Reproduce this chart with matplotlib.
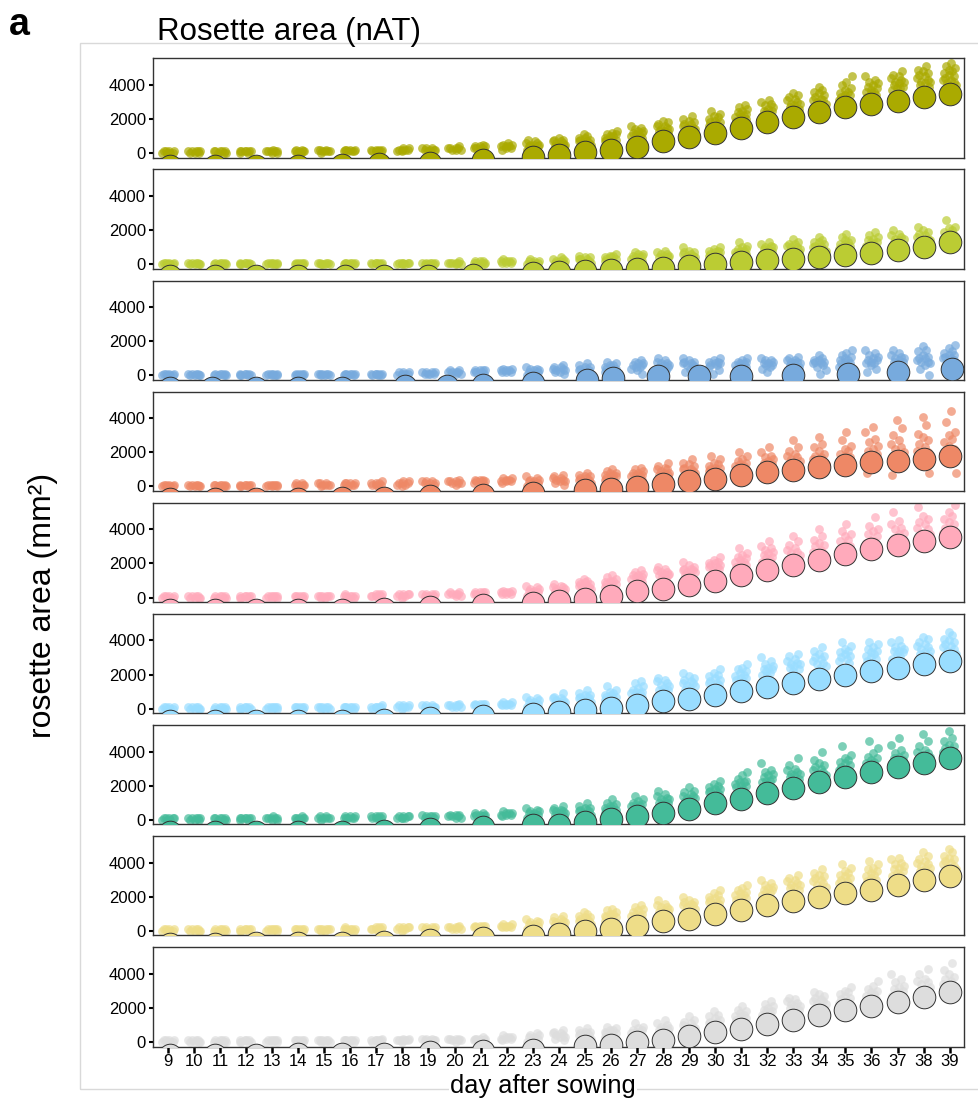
import matplotlib
matplotlib.use("Agg")
import matplotlib.pyplot as plt
from matplotlib.patches import Rectangle

plt.rcParams["font.family"] = ["Liberation Sans", "DejaVu Sans"]

DAYS = list(range(9, 40))
EARLY_X = [9.1, 10.8, 12.4, 14.0, 15.7, 17.3, 19.05, 21.1]
LATE_X = list(range(23, 40))

COLORS = ["#AAAA00", "#BBCC33", "#77AADD", "#EE8866", "#FFAABB",
          "#99DDFF", "#44BB99", "#EEDD88", "#DDDDDD"]

# plant values per day (hundreds of mm2), days 9..39
P1_PTS = [
    [0, 0, 0, 0, 1, 1, 1, 1], [0, 0, 0, 1, 1, 1, 1, 1], [0, 0, 0, 1, 1, 1, 1, 1],
    [0, 0, 1, 1, 1, 1, 1, 1], [0, 0, 1, 1, 1, 1, 1, 2], [0, 0, 1, 1, 1, 1, 2, 2],
    [0, 1, 1, 1, 1, 2, 2, 2], [1, 1, 1, 1, 2, 2, 2, 2], [1, 1, 1, 1, 2, 2, 2, 2],
    [1, 1, 2, 2, 2, 2, 3, 3], [1, 2, 2, 2, 2, 3, 3, 3], [2, 2, 2, 3, 3, 3, 3, 4],
    [2, 3, 3, 3, 4, 4, 4, 5], [2, 3, 3, 4, 4, 4, 5, 5, 6],
    [2, 3, 3, 4, 4, 5, 5, 5, 6, 6, 7, 8], [4, 4, 5, 5, 6, 6, 7, 7, 8, 8, 9],
    [5, 6, 6, 7, 7, 8, 8, 9, 9, 10, 11], [7, 7, 8, 8, 9, 9, 10, 10, 11, 11, 12, 13],
    [9, 9, 10, 10, 11, 12, 12, 13, 13, 14, 15, 16],
    [11, 11, 12, 13, 13, 14, 14, 15, 16, 16, 17, 18, 19],
    [13, 13, 14, 15, 15, 16, 17, 17, 18, 19, 20, 22],
    [15, 15, 16, 17, 18, 18, 19, 20, 21, 22, 23, 25],
    [18, 19, 20, 21, 21, 22, 23, 23, 24, 25, 26, 27, 28],
    [22, 22, 23, 24, 25, 25, 26, 27, 28, 29, 30, 31],
    [26, 26, 27, 28, 29, 29, 30, 31, 32, 33, 34, 35],
    [28, 29, 30, 31, 31, 32, 33, 34, 35, 36, 37, 39],
    [30, 31, 32, 33, 34, 34, 35, 36, 37, 38, 40, 42, 45],
    [33, 34, 35, 36, 36, 37, 38, 39, 40, 41, 42, 43, 45],
    [37, 38, 38, 39, 40, 41, 42, 42, 43, 44, 45, 46, 48],
    [39, 40, 41, 42, 42, 43, 44, 45, 46, 47, 48, 49, 51],
    [40, 41, 42, 43, 43, 44, 45, 46, 47, 48, 49, 50, 51, 53],
]
P2_PTS = [
    [0, 0, 0, 0, 1, 1, 1, 1], [0, 0, 0, 0, 1, 1, 1, 1], [0, 0, 0, 0, 1, 1, 1, 1],
    [0, 0, 0, 0, 1, 1, 1, 1], [0, 0, 0, 0, 1, 1, 1, 1], [0, 0, 0, 0, 1, 1, 1, 1],
    [0, 0, 0, 0, 1, 1, 1, 1], [0, 0, 0, 1, 1, 1, 1, 1], [0, 0, 0, 1, 1, 1, 1, 1],
    [0, 0, 0, 1, 1, 1, 1, 1], [0, 0, 0, 1, 1, 1, 1, 1], [0, 0, 1, 1, 1, 1, 1, 2],
    [0, 1, 1, 1, 1, 2, 2, 2], [1, 1, 1, 2, 2, 2, 2, 3],
    [0, 1, 1, 1, 2, 2, 2, 3], [1, 1, 2, 2, 2, 3, 3, 4], [1, 2, 2, 3, 3, 3, 4, 4, 5],
    [2, 2, 3, 3, 4, 4, 5, 5, 6], [2, 3, 3, 4, 4, 5, 5, 6, 6, 7],
    [3, 3, 4, 4, 5, 5, 6, 6, 7, 8], [3, 4, 4, 5, 5, 6, 6, 7, 7, 8, 10],
    [4, 5, 5, 6, 6, 7, 7, 8, 8, 9, 10], [5, 6, 6, 7, 7, 8, 8, 9, 9, 10, 11, 13],
    [5, 6, 7, 7, 8, 9, 9, 10, 10, 11, 12, 13],
    [6, 7, 8, 8, 9, 10, 10, 11, 12, 12, 13, 15],
    [7, 8, 9, 9, 10, 11, 11, 12, 13, 13, 14, 16],
    [8, 9, 10, 10, 11, 12, 12, 13, 14, 14, 16, 18],
    [9, 10, 11, 11, 12, 13, 13, 14, 15, 16, 17, 19],
    [10, 11, 12, 12, 13, 14, 15, 15, 16, 17, 18, 20],
    [11, 12, 13, 14, 14, 15, 16, 17, 18, 19, 20, 22],
    [12, 13, 14, 15, 16, 16, 17, 18, 19, 20, 21, 22, 26],
]
P3_PTS = [
    [0, 0, 0, 0, 1, 1, 1, 1], [0, 0, 0, 0, 1, 1, 1, 1], [0, 0, 0, 0, 1, 1, 1, 1],
    [0, 0, 0, 0, 1, 1, 1, 1], [0, 0, 0, 0, 1, 1, 1, 1], [0, 0, 0, 0, 1, 1, 1, 1],
    [0, 0, 0, 1, 1, 1, 1, 1], [0, 0, 0, 1, 1, 1, 1, 1], [0, 0, 0, 1, 1, 1, 1, 1],
    [0, 0, 1, 1, 1, 2, 2, 2], [1, 1, 1, 1, 2, 2, 2, 2], [1, 1, 2, 2, 2, 2, 3, 3],
    [1, 2, 2, 2, 3, 3, 3, 3], [2, 2, 2, 3, 3, 3, 4, 4],
    [0, 1, 1, 2, 2, 3, 3, 4, 4, 5], [1, 2, 2, 3, 3, 4, 4, 5, 5, 6],
    [1, 2, 3, 3, 4, 4, 5, 5, 6, 7], [2, 3, 4, 4, 5, 5, 6, 6, 7, 8],
    [1, 3, 4, 5, 5, 6, 6, 7, 7, 8, 9], [3, 4, 5, 5, 6, 6, 7, 7, 8, 9, 10],
    [2, 4, 5, 6, 6, 7, 7, 8, 8, 9, 10], [1, 3, 5, 6, 6, 7, 7, 8, 8, 9, 10],
    [3, 4, 5, 6, 6, 7, 7, 8, 8, 9, 10], [2, 4, 5, 6, 6, 7, 7, 8, 9, 9, 10],
    [3, 5, 6, 7, 7, 8, 8, 9, 9, 10, 11], [1, 3, 5, 6, 7, 7, 8, 8, 9, 9, 10, 12],
    [3, 5, 6, 7, 7, 8, 9, 9, 10, 11, 12, 13, 15],
    [2, 4, 6, 7, 7, 8, 9, 9, 10, 11, 12, 13, 15],
    [4, 5, 7, 8, 8, 9, 10, 10, 11, 12, 13, 15],
    [0, 4, 6, 7, 8, 8, 9, 10, 10, 11, 12, 14, 15, 17],
    [7, 8, 9, 10, 10, 11, 12, 12, 13, 14, 16, 18],
]
P4_PTS = [
    [0, 0, 0, 0, 1, 1, 1, 1], [0, 0, 0, 0, 1, 1, 1, 1], [0, 0, 0, 1, 1, 1, 1, 1],
    [0, 0, 0, 1, 1, 1, 1, 1], [0, 0, 0, 1, 1, 1, 1, 1], [0, 0, 1, 1, 1, 1, 2, 2],
    [0, 1, 1, 1, 1, 2, 2, 2], [0, 1, 1, 1, 2, 2, 2, 2], [0, 1, 1, 1, 2, 2, 2, 3],
    [0, 1, 1, 2, 2, 2, 3, 3], [1, 1, 2, 2, 2, 3, 3, 3], [1, 2, 2, 2, 3, 3, 3, 4],
    [1, 2, 3, 3, 3, 4, 4, 4], [2, 3, 3, 3, 4, 4, 5, 5],
    [0, 1, 2, 2, 3, 3, 4, 4, 5, 6], [1, 2, 3, 3, 4, 4, 5, 5, 6, 7],
    [2, 3, 4, 4, 5, 5, 6, 6, 7, 8], [4, 5, 5, 6, 6, 7, 7, 8, 8, 9, 10],
    [4, 5, 6, 6, 7, 7, 8, 8, 9, 10, 11], [4, 6, 7, 7, 8, 8, 9, 10, 10, 11, 12, 14],
    [5, 7, 8, 8, 9, 10, 10, 11, 12, 13, 14, 16],
    [6, 8, 9, 9, 10, 11, 11, 12, 13, 14, 16, 18],
    [8, 9, 10, 11, 12, 12, 13, 14, 15, 16, 18, 20],
    [9, 10, 12, 12, 13, 14, 15, 16, 17, 18, 20, 23],
    [10, 12, 13, 14, 15, 16, 17, 18, 19, 21, 23, 27],
    [11, 13, 14, 15, 16, 17, 18, 19, 21, 23, 25, 29],
    [12, 14, 15, 16, 17, 18, 19, 21, 22, 24, 27, 32],
    [8, 13, 15, 16, 17, 18, 19, 21, 22, 24, 26, 28, 32, 35],
    [7, 14, 16, 17, 18, 19, 20, 22, 23, 25, 27, 30, 34, 39],
    [8, 15, 17, 18, 19, 20, 21, 23, 25, 27, 29, 31, 36, 41],
    [8, 16, 18, 19, 20, 21, 22, 24, 26, 28, 30, 32, 38, 44],
]
P5_PTS = [
    [0, 0, 0, 0, 1, 1, 1, 1], [0, 0, 0, 0, 1, 1, 1, 1], [0, 0, 0, 0, 1, 1, 1, 1],
    [0, 0, 0, 1, 1, 1, 1, 1], [0, 0, 0, 1, 1, 1, 1, 1], [0, 0, 0, 1, 1, 1, 1, 1],
    [0, 0, 1, 1, 1, 1, 1, 1], [0, 0, 1, 1, 1, 1, 1, 2], [0, 1, 1, 1, 1, 2, 2, 2],
    [0, 1, 1, 1, 2, 2, 2, 2], [1, 1, 1, 1, 2, 2, 2, 2], [1, 1, 2, 2, 2, 2, 3, 3],
    [1, 2, 2, 2, 3, 3, 3, 3], [2, 2, 2, 3, 3, 3, 4, 4],
    [1, 2, 3, 3, 4, 4, 5, 5, 6, 7], [3, 4, 4, 5, 5, 6, 6, 7, 8],
    [5, 6, 6, 7, 7, 8, 8, 9, 9, 10, 11], [6, 7, 8, 8, 9, 9, 10, 10, 11, 12, 13],
    [9, 10, 11, 11, 12, 12, 13, 13, 14, 15, 16],
    [11, 12, 13, 13, 14, 14, 15, 15, 16, 17, 18],
    [13, 14, 15, 15, 16, 16, 17, 17, 18, 19, 21],
    [16, 17, 18, 18, 19, 19, 20, 20, 21, 22, 24],
    [17, 18, 19, 20, 21, 21, 22, 23, 24, 25, 26, 29],
    [20, 21, 22, 23, 24, 25, 26, 27, 28, 29, 30, 33],
    [20, 22, 23, 24, 25, 26, 27, 28, 29, 31, 33, 36],
    [22, 24, 25, 26, 27, 28, 30, 31, 32, 34, 36, 40],
    [25, 27, 28, 29, 30, 31, 33, 34, 36, 37, 39, 43],
    [28, 30, 31, 32, 33, 34, 36, 37, 39, 40, 42, 47],
    [30, 32, 33, 34, 35, 37, 38, 40, 41, 43, 45, 50],
    [33, 35, 36, 37, 38, 40, 41, 43, 44, 46, 48, 53],
    [34, 36, 37, 38, 40, 41, 43, 44, 46, 48, 50, 54],
]
P6_PTS = [
    [0, 0, 0, 0, 1, 1, 1, 1], [0, 0, 0, 0, 1, 1, 1, 1], [0, 0, 0, 0, 1, 1, 1, 1],
    [0, 0, 0, 0, 1, 1, 1, 1], [0, 0, 0, 1, 1, 1, 1, 1], [0, 0, 0, 1, 1, 1, 1, 1],
    [0, 0, 0, 1, 1, 1, 1, 1], [0, 0, 1, 1, 1, 1, 1, 1], [0, 0, 1, 1, 1, 1, 1, 2],
    [0, 1, 1, 1, 1, 2, 2, 2], [0, 1, 1, 1, 1, 2, 2, 2], [1, 1, 1, 2, 2, 2, 2, 3],
    [1, 2, 2, 2, 3, 3, 3, 3], [2, 2, 2, 3, 3, 3, 4, 4],
    [1, 2, 3, 3, 4, 4, 5, 5, 6, 7], [2, 3, 4, 4, 5, 5, 6, 6, 7, 9],
    [4, 5, 6, 6, 7, 7, 8, 8, 9, 11], [5, 6, 7, 7, 8, 8, 9, 10, 11, 13],
    [7, 8, 9, 9, 10, 10, 11, 12, 13, 15, 16],
    [9, 10, 11, 11, 12, 13, 14, 15, 16, 17, 18],
    [11, 12, 13, 14, 15, 15, 16, 17, 18, 19, 21],
    [12, 14, 15, 15, 16, 17, 18, 19, 20, 21, 23],
    [16, 17, 18, 18, 19, 20, 21, 22, 23, 24, 26],
    [19, 20, 21, 22, 23, 23, 24, 25, 26, 28, 30],
    [22, 23, 24, 25, 26, 26, 27, 28, 29, 31, 32],
    [24, 25, 26, 27, 28, 29, 30, 31, 32, 34, 36],
    [27, 28, 29, 30, 31, 32, 33, 34, 35, 37, 39],
    [28, 29, 30, 31, 32, 33, 34, 35, 36, 38, 39],
    [29, 31, 32, 33, 34, 34, 35, 36, 37, 39, 40],
    [31, 32, 33, 34, 35, 36, 37, 38, 39, 41, 42],
    [32, 34, 35, 36, 37, 38, 39, 40, 41, 43, 45],
]
P7_PTS = [
    [0, 0, 0, 1, 1, 1, 1, 1], [0, 0, 0, 1, 1, 1, 1, 1], [0, 0, 0, 1, 1, 1, 1, 1],
    [0, 0, 1, 1, 1, 1, 1, 1], [0, 0, 1, 1, 1, 1, 1, 2], [0, 0, 1, 1, 1, 1, 1, 2],
    [0, 1, 1, 1, 1, 1, 2, 2], [1, 1, 1, 1, 1, 2, 2, 2], [1, 1, 1, 1, 2, 2, 2, 2],
    [1, 1, 1, 1, 2, 2, 2, 2], [1, 1, 1, 2, 2, 2, 2, 3], [1, 1, 2, 2, 2, 3, 3, 3],
    [2, 2, 2, 3, 3, 3, 4, 4], [2, 3, 3, 3, 4, 4, 4, 5],
    [1, 2, 3, 3, 4, 4, 5, 5, 6, 7], [2, 3, 4, 4, 5, 5, 6, 6, 7, 8],
    [3, 4, 5, 5, 6, 6, 7, 7, 8, 10], [4, 5, 6, 6, 7, 7, 8, 8, 9, 10, 12],
    [6, 7, 8, 8, 9, 9, 10, 11, 12, 14], [8, 9, 10, 10, 11, 12, 12, 13, 14, 15, 17],
    [11, 12, 13, 13, 14, 14, 15, 16, 17, 19],
    [14, 15, 16, 16, 17, 18, 18, 19, 20, 21, 23],
    [18, 19, 20, 20, 21, 22, 22, 23, 24, 26, 28],
    [21, 22, 23, 23, 24, 25, 26, 27, 28, 29, 33],
    [23, 24, 25, 26, 27, 27, 28, 29, 30, 32, 36],
    [25, 26, 27, 28, 29, 30, 31, 32, 33, 35, 40],
    [27, 29, 30, 31, 32, 33, 34, 35, 36, 38, 43],
    [29, 31, 32, 33, 34, 35, 36, 37, 39, 42, 46],
    [31, 33, 34, 35, 36, 37, 38, 39, 41, 44, 48],
    [33, 35, 36, 37, 38, 39, 40, 41, 43, 46, 50],
    [35, 38, 39, 40, 41, 42, 43, 44, 46, 48, 52],
]
P8_PTS = [
    [0, 0, 0, 0, 1, 1, 1, 1], [0, 0, 0, 0, 1, 1, 1, 1], [0, 0, 0, 0, 1, 1, 1, 1],
    [0, 0, 0, 1, 1, 1, 1, 1], [0, 0, 0, 1, 1, 1, 1, 1], [0, 0, 0, 1, 1, 1, 1, 1],
    [0, 0, 1, 1, 1, 1, 1, 1], [0, 0, 1, 1, 1, 1, 1, 2], [0, 1, 1, 1, 1, 2, 2, 2],
    [0, 1, 1, 1, 2, 2, 2, 2], [1, 1, 1, 1, 2, 2, 2, 2], [1, 1, 1, 2, 2, 2, 2, 3],
    [1, 2, 2, 2, 3, 3, 3, 3], [2, 2, 2, 3, 3, 3, 4, 4],
    [1, 2, 3, 3, 4, 4, 5, 5, 6, 7], [3, 4, 4, 5, 5, 6, 6, 7, 8, 9],
    [4, 5, 6, 6, 7, 7, 8, 8, 9, 10, 11], [6, 7, 8, 8, 9, 9, 10, 10, 11, 12, 13],
    [7, 8, 9, 9, 10, 10, 11, 12, 13, 14, 15],
    [9, 10, 11, 11, 12, 13, 14, 14, 15, 16, 18],
    [11, 12, 13, 14, 15, 15, 16, 17, 17, 18, 20],
    [15, 16, 17, 17, 18, 18, 19, 20, 21, 22, 24],
    [17, 18, 19, 20, 21, 21, 22, 23, 24, 25, 27],
    [20, 21, 22, 23, 24, 24, 25, 26, 27, 28, 30],
    [23, 24, 25, 26, 27, 27, 28, 29, 30, 31, 33],
    [25, 26, 27, 28, 29, 30, 31, 32, 33, 34, 36],
    [27, 28, 29, 30, 31, 32, 33, 34, 35, 37, 39],
    [29, 30, 31, 32, 33, 34, 35, 36, 37, 39, 41],
    [32, 33, 34, 35, 36, 37, 38, 39, 40, 42, 43],
    [34, 35, 36, 37, 38, 39, 40, 41, 42, 44, 46],
    [36, 37, 38, 39, 40, 41, 42, 43, 44, 46, 48],
]
P9_PTS = [
    [0, 0, 0, 0, 1, 1, 1, 1], [0, 0, 0, 0, 1, 1, 1, 1], [0, 0, 0, 0, 1, 1, 1, 1],
    [0, 0, 0, 0, 1, 1, 1, 1], [0, 0, 0, 1, 1, 1, 1, 1], [0, 0, 0, 1, 1, 1, 1, 1],
    [0, 0, 0, 1, 1, 1, 1, 1], [0, 0, 1, 1, 1, 1, 1, 1], [0, 0, 1, 1, 1, 1, 1, 2],
    [0, 1, 1, 1, 1, 1, 2, 2], [0, 1, 1, 1, 1, 2, 2, 2], [0, 1, 1, 1, 2, 2, 2, 2],
    [1, 1, 1, 2, 2, 2, 2, 3], [1, 2, 2, 2, 3, 3, 3, 4],
    [0, 1, 2, 2, 3, 3, 4, 4, 5], [1, 2, 3, 3, 4, 4, 5, 5, 6, 7],
    [2, 3, 4, 4, 5, 5, 6, 6, 7, 8], [3, 4, 5, 5, 6, 6, 7, 7, 8, 9],
    [3, 4, 5, 6, 6, 7, 7, 8, 9, 11], [5, 6, 7, 7, 8, 8, 9, 10, 11, 13],
    [6, 7, 8, 9, 9, 10, 11, 12, 13, 15], [9, 10, 11, 12, 12, 13, 14, 15, 16, 18],
    [12, 13, 14, 15, 15, 16, 17, 18, 19, 21], [15, 16, 17, 18, 18, 19, 20, 21, 22, 24],
    [18, 19, 20, 21, 21, 22, 23, 24, 25, 26], [21, 22, 23, 24, 24, 25, 26, 27, 28, 29],
    [22, 23, 24, 25, 26, 27, 28, 29, 30, 32], [24, 25, 26, 27, 28, 29, 30, 31, 33, 36],
    [27, 28, 29, 30, 31, 32, 33, 35, 37, 40], [29, 30, 31, 32, 34, 35, 36, 37, 40, 43],
    [31, 32, 33, 34, 36, 37, 38, 40, 42, 46],
]

# group means (mm2) and their x positions
P1_MX = EARLY_X[:5] + [17.1] + EARLY_X[6:] + LATE_X
P1_MY = [-750, -750, -740, -730, -680, -640, -550, -400, -250, -135, 40, 180, 370, 690,
         920, 1180, 1470, 1810, 2120, 2390, 2690, 2880, 3080, 3290, 3490]
P2_MX = [9.1, 10.8, 12.4, 14.0, 15.8, 17.3, 19.0, 20.7] + LATE_X
P2_MY = [-700, -700, -700, -700, -700, -680, -660, -600, -510, -450, -390, -330, -275,
         -215, -100, 20, 135, 250, 310, 430, 545, 660, 840, 1010, 1300]
P3_MX = [9.1, 10.7, 12.4, 14.0, 15.7, 18.1, 19.7, 21.1, 23.0, 25.1, 26.1, 27.8, 29.4,
         31.0, 33.0, 35.1, 37.0, 39.1]
P3_MY = [-740, -740, -740, -740, -720, -650, -600, -540, -445, -270, -170, -53, -53,
         -53, 47, 105, 200, 400]
P4_MX = EARLY_X + [23] + LATE_X[2:]
P4_MY = [-740, -740, -730, -720, -700, -660, -580, -480, -381, -224, -127, -29, 137, 303,
         459, 654, 830, 986, 1123, 1279, 1416, 1514, 1631, 1807]
P5_MX = EARLY_X + LATE_X
P5_MY = [-740, -740, -730, -720, -700, -660, -560, -420, -316, -219, -63, 74, 405, 522,
         756, 991, 1343, 1636, 1929, 2222, 2554, 2867, 3101, 3336, 3531]
P6_MX = EARLY_X + LATE_X
P6_MY = [-740, -740, -730, -720, -700, -660, -560, -420, -311, -211, -97, 40, 196, 431,
         587, 821, 1056, 1251, 1505, 1759, 1993, 2188, 2384, 2618, 2813]
P7_MX = EARLY_X + LATE_X
P7_MY = [-740, -740, -730, -720, -700, -660, -560, -420, -324, -285, -129, 66, 203, 398,
         633, 985, 1239, 1571, 1864, 2216, 2509, 2802, 3075, 3329, 3622]
P8_MX = EARLY_X + LATE_X
P8_MY = [-740, -740, -730, -720, -700, -660, -560, -420, -279, -183, -27, 129, 305, 559,
         715, 989, 1243, 1497, 1731, 1966, 2200, 2415, 2708, 2962, 3197]
P9_MX = EARLY_X + [23] + LATE_X[2:]
P9_MY = [-743, -743, -740, -730, -700, -680, -606, -510, -449, -254, -156, 0, 137, 332,
         566, 781, 1055, 1309, 1563, 1875, 2130, 2344, 2618, 2911]

PANELS = [
    (P1_PTS, P1_MX, P1_MY), (P2_PTS, P2_MX, P2_MY), (P3_PTS, P3_MX, P3_MY),
    (P4_PTS, P4_MX, P4_MY), (P5_PTS, P5_MX, P5_MY), (P6_PTS, P6_MX, P6_MY),
    (P7_PTS, P7_MX, P7_MY), (P8_PTS, P8_MX, P8_MY), (P9_PTS, P9_MX, P9_MY),
]

# fixed horizontal spread of the plants inside one day
JIT = [-0.22, 0.1, -0.03, 0.2, -0.14, 0.04, 0.24, -0.09, 0.15, -0.24, 0.07, -0.18,
       0.18, -0.01]

W, H = 979, 1102
fig = plt.figure(figsize=(W / 100, H / 100), dpi=100)

# light frame around the panel block
fig.add_artist(Rectangle((80 / W, 1 - 1088.5 / H), 910 / W, 1045.5 / H,
                         transform=fig.transFigure, fill=False,
                         edgecolor="#d9d9d9", lw=1.0, zorder=0))

left, right = 153, 964
for i, (pts, mx, my) in enumerate(PANELS):
    top = 58.3 + 111.1 * i
    ax = fig.add_axes([left / W, 1 - (top + 99.4) / H, (right - left) / W, 99.4 / H])
    col = COLORS[i]

    xs, ys = [], []
    for j, (d, vals) in enumerate(zip(DAYS, pts)):
        for k, v in enumerate(vals):
            xs.append(d + JIT[(k + 3 * j) % len(JIT)])
            ys.append(v * 100)
    ax.scatter(xs, ys, s=40, color=col, alpha=0.7, linewidths=0, zorder=2)
    ax.scatter(mx, my, s=265, color=col, edgecolors="#333333", linewidths=0.7, zorder=3)

    ax.set_xlim(8.43, 39.55)
    ax.set_ylim(-265, 5560)
    ax.set_yticks([0, 2000, 4000])
    ax.tick_params(axis="y", length=3, width=1.5, labelsize=12, pad=2, color="black")
    for s in ax.spines.values():
        s.set_color("#333333")
        s.set_linewidth(1.0)
    if i < 8:
        ax.set_xticks([])
    else:
        ax.set_xticks(DAYS)
        ax.tick_params(axis="x", length=4.5, width=1.8, labelsize=12, pad=1)

fig.text(9 / W, 1 - 35 / H, "a", fontsize=27, fontweight="bold", va="baseline")
fig.text(157 / W, 1 - 40 / H, "Rosette area (nAT)", fontsize=22.5, va="baseline")
fig.text(43 / W, 1 - 605 / H, "rosette area (mm²)", fontsize=23, rotation=90,
         ha="center", va="center")
fig.text(543 / W, 1 - 1093 / H, "day after sowing", fontsize=18.3, ha="center",
         va="baseline", zorder=5,
         bbox=dict(facecolor="white", edgecolor="none", pad=1))

fig.savefig("out.png", dpi=100)
